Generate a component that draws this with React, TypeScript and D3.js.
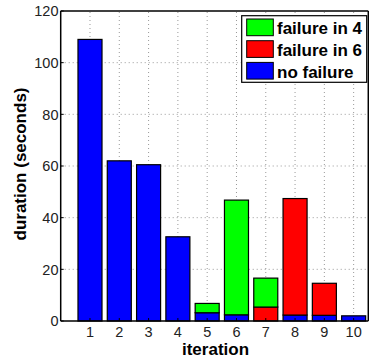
import React from "react";
import * as d3 from "d3";

const iterations = [1, 2, 3, 4, 5, 6, 7, 8, 9, 10];
const noFailure = [109, 62, 60.5, 32.6, 3.2, 2.4, 0, 2.3, 2.2, 2.0];
const failureIn6 = [0, 0, 0, 0, 0, 0, 5.4, 45.1, 12.4, 0];
const failureIn4 = [0, 0, 0, 0, 3.6, 44.4, 11.2, 0, 0, 0];
const yTicks = [0, 20, 40, 60, 80, 100, 120];

const seriesNames = ["no failure", "failure in 6", "failure in 4"];
const seriesColors = ["#0000ff", "#ff0000", "#00ff00"];
const legendOrder = [2, 1, 0];

export default function App() {
  const W = 369, H = 358;
  const x = d3.scaleLinear().domain([0, 10.5]).range([60.7, 368.3]);
  const y = d3.scaleLinear().domain([0, 120]).range([321, 11]);
  const barW = (x(0.82) - x(0));
  const series = [noFailure, failureIn6, failureIn4];
  const stacked = d3.stack<number>().keys(["0", "1", "2"]).value((i, k) => series[+k][i])(iterations.map((_, i) => i));

  const font = "Liberation Sans, Arial, Helvetica, sans-serif";
  return (
    <svg width={W} height={H} style={{ position: "absolute", left: 0, top: 0 }} fontFamily={font}>
      <rect x={0} y={0} width={W} height={H} fill="#fff" />
      {/* grid */}
      {iterations.map((t) => (
        <line key={"gx" + t} x1={x(t)} x2={x(t)} y1={y(0)} y2={y(120)} stroke="#999" strokeWidth={1} strokeDasharray="1,3" />
      ))}
      {yTicks.filter((t) => t > 0 && t < 120).map((t) => (
        <line key={"gy" + t} x1={x(0)} x2={x(10.5)} y1={y(t)} y2={y(t)} stroke="#999" strokeWidth={1} strokeDasharray="1,3" />
      ))}
      {/* bars */}
      {stacked.map((layer, si) =>
        layer.map((d, i) =>
          d[1] - d[0] > 0 ? (
            <rect key={si + "-" + i} x={x(iterations[i]) - barW / 2} width={barW} y={y(d[1])} height={y(d[0]) - y(d[1])}
              fill={seriesColors[si]} stroke="#000" strokeWidth={1.2} />
          ) : null
        )
      )}
      {/* axes box */}
      <line x1={x(0)} x2={x(0)} y1={y(0)} y2={y(120)} stroke="#000" strokeWidth={1.5} />
      <line x1={x(0)} x2={x(10.5)} y1={y(0)} y2={y(0)} stroke="#000" strokeWidth={1.5} />
      <line x1={x(0)} x2={x(10.5)} y1={y(120)} y2={y(120)} stroke="#000" strokeWidth={1.5} />
      <line x1={x(10.5)} x2={x(10.5)} y1={y(0)} y2={y(120)} stroke="#000" strokeWidth={1.5} />
      {/* ticks */}
      {yTicks.map((t) => (
        <g key={"yt" + t}>
          <line x1={x(0)} x2={x(0) + 3} y1={y(t)} y2={y(t)} stroke="#000" />
          <text x={58.5} y={y(t)} dy="0.36em" textAnchor="end" fontSize={14.5} fill="#222">{t}</text>
        </g>
      ))}
      {iterations.map((t) => (
        <g key={"xt" + t}>
          <line x1={x(t)} x2={x(t)} y1={y(0)} y2={y(0) - 3} stroke="#000" />
          <text x={x(t)} y={336.7} textAnchor="middle" fontSize={14.5} fill="#222">{t}</text>
        </g>
      ))}
      <text x={215.5} y={355} textAnchor="middle" fontSize={17} fontWeight="bold">iteration</text>
      <text transform={`translate(25.5,164) rotate(-90)`} textAnchor="middle" fontSize={17} fontWeight="bold">duration (seconds)</text>
      {/* legend */}
      <rect x={241.7} y={15.7} width={125} height={66.6} fill="#fff" stroke="#000" strokeWidth={1.2} />
      {legendOrder.map((si, k) => (
        <g key={"lg" + si}>
          <rect x={246.7} y={19 + k * 21.7} width={26.6} height={16.7} fill={seriesColors[si]} stroke="#000" strokeWidth={1} />
          <text x={277} y={34.3 + k * 21.7} fontSize={17} fontWeight="bold">{seriesNames[si]}</text>
        </g>
      ))}
    </svg>
  );
}
